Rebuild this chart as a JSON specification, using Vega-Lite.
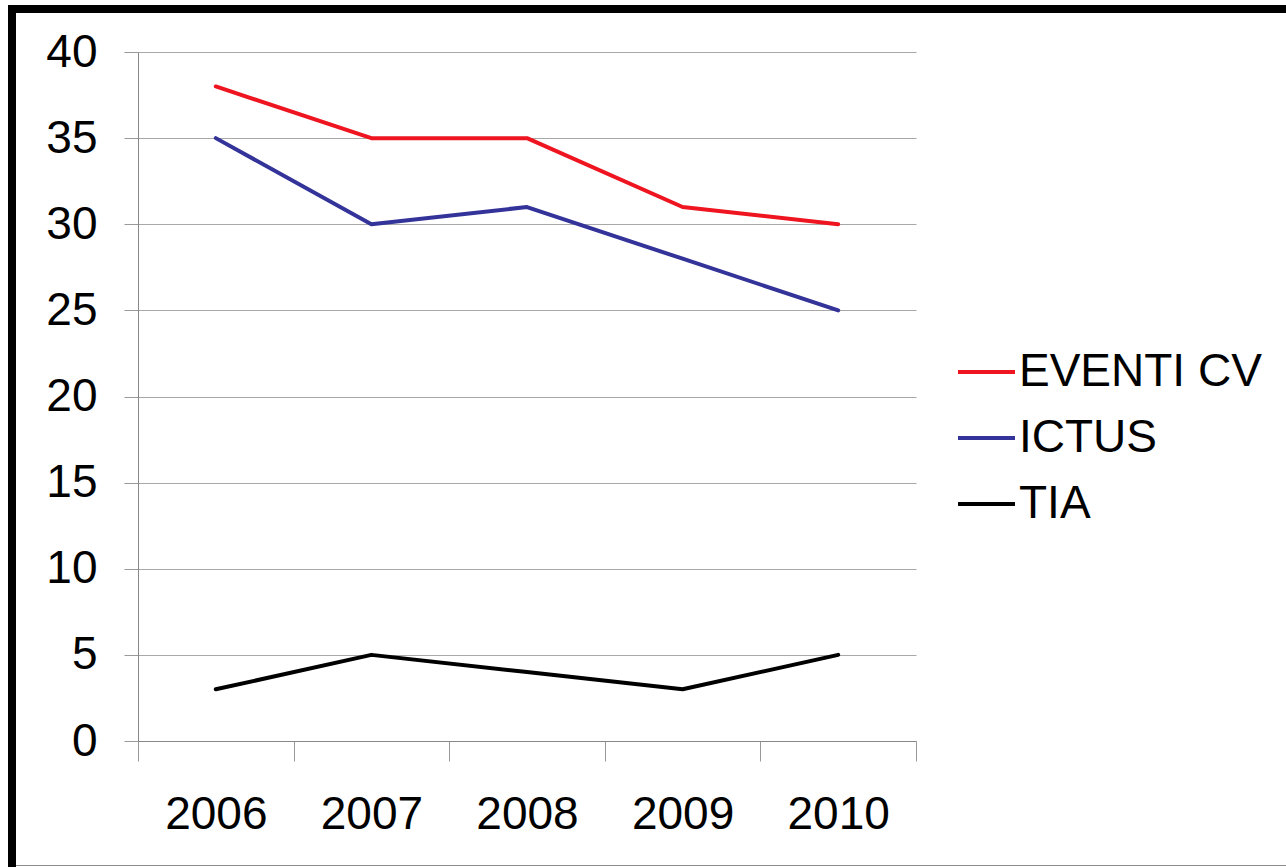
{
  "$schema": "https://vega.github.io/schema/vega-lite/v6.json",
  "background": "white",
  "padding": {"left": 8, "top": 5, "right": 0, "bottom": 0},
  "spacing": 0,
  "config": {
    "view": {"stroke": null},
    "font": "Liberation Sans"
  },
  "hconcat": [
    {
      "width": 8,
      "height": 862,
      "data": {"values": [{"edge": "left"}]},
      "mark": {"type": "rect", "color": "#000000"},
      "encoding": {}
    },
    {
      "spacing": 16,
      "vconcat": [
        {
          "width": 1148,
          "height": 8,
          "data": {"values": [{"edge": "top", "from": 0, "to": 1}]},
          "mark": {"type": "rect", "color": "#000000"},
          "encoding": {
            "x": {
              "field": "from",
              "type": "quantitative",
              "scale": {"domain": [0, 1], "range": [-122, 1148]},
              "axis": null
            },
            "x2": {"field": "to"}
          }
        },
        {
          "width": 778,
          "height": 689,
          "data": {
            "values": [
              {"year": "2006", "series": "EVENTI CV", "value": 38},
              {"year": "2007", "series": "EVENTI CV", "value": 35},
              {"year": "2008", "series": "EVENTI CV", "value": 35},
              {"year": "2009", "series": "EVENTI CV", "value": 31},
              {"year": "2010", "series": "EVENTI CV", "value": 30},
              {"year": "2006", "series": "ICTUS", "value": 35},
              {"year": "2007", "series": "ICTUS", "value": 30},
              {"year": "2008", "series": "ICTUS", "value": 31},
              {"year": "2009", "series": "ICTUS", "value": 28},
              {"year": "2010", "series": "ICTUS", "value": 25},
              {"year": "2006", "series": "TIA", "value": 3},
              {"year": "2007", "series": "TIA", "value": 5},
              {"year": "2008", "series": "TIA", "value": 4},
              {"year": "2009", "series": "TIA", "value": 3},
              {"year": "2010", "series": "TIA", "value": 5}
            ]
          },
          "mark": {"type": "line", "strokeWidth": 4, "strokeCap": "round", "strokeJoin": "round"},
          "encoding": {
            "x": {
              "field": "year",
              "type": "ordinal",
              "scale": {"type": "band", "paddingInner": 0, "paddingOuter": 0},
              "axis": {
                "title": null,
                "tickBand": "extent",
                "tickSize": 20,
                "tickColor": "#999999",
                "domainColor": "#888888",
                "labelPadding": 31.5,
                "labelFontSize": 46,
                "labelFont": "Liberation Sans",
                "labelColor": "#000000",
                "labelAngle": 0,
                "grid": false,
                "minExtent": 108,
                "maxExtent": 200,
                "titlePadding": 0
              }
            },
            "y": {
              "field": "value",
              "type": "quantitative",
              "scale": {"domain": [0, 40], "nice": false},
              "axis": {
                "title": null,
                "values": [0, 5, 10, 15, 20, 25, 30, 35, 40],
                "tickSize": 14,
                "tickColor": "#999999",
                "domainColor": "#888888",
                "gridColor": "#a8a8a8",
                "grid": true,
                "labelPadding": 27,
                "labelFontSize": 46,
                "labelFont": "Liberation Sans",
                "labelColor": "#000000",
                "minExtent": 122,
                "maxExtent": 200,
                "titlePadding": 0
              }
            },
            "color": {
              "field": "series",
              "type": "nominal",
              "scale": {
                "domain": ["EVENTI CV", "ICTUS", "TIA"],
                "range": ["#ee1520", "#333399", "#000000"]
              },
              "legend": {
                "title": null,
                "orient": "none",
                "legendX": 948,
                "legendY": 336.5,
                "padding": 0,
                "symbolType": "stroke",
                "symbolSize": 3249,
                "symbolStrokeWidth": 4,
                "rowPadding": 12,
                "labelOffset": 2,
                "labelFontSize": 46,
                "labelFont": "Liberation Sans",
                "labelColor": "#000000",
                "labelLimit": 400
              }
            }
          }
        },
        {
          "width": 1148,
          "height": 1,
          "data": {"values": [{"edge": "bottom", "from": 0, "to": 1}]},
          "mark": {"type": "rect", "color": "#8a8a8a"},
          "encoding": {
            "x": {
              "field": "from",
              "type": "quantitative",
              "scale": {"domain": [0, 1], "range": [-122, 1148]},
              "axis": null
            },
            "x2": {"field": "to"}
          }
        }
      ]
    }
  ]
}
